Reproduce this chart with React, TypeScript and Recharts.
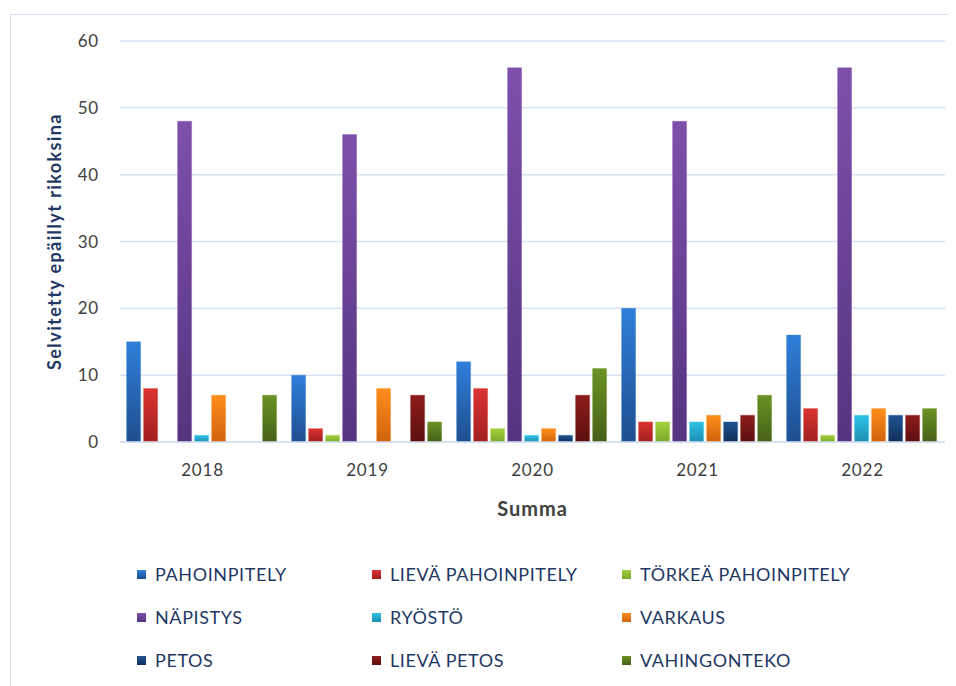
import { BarChart, Bar, XAxis, YAxis, CartesianGrid, Label } from "recharts";

const years = ["2018", "2019", "2020", "2021", "2022"];

const seriesNames = [
  "PAHOINPITELY",
  "LIEVÄ PAHOINPITELY",
  "TÖRKEÄ PAHOINPITELY",
  "NÄPISTYS",
  "RYÖSTÖ",
  "VARKAUS",
  "PETOS",
  "LIEVÄ PETOS",
  "VAHINGONTEKO",
];

const pahoinpitely = [15, 10, 12, 20, 16];
const lievaPahoinpitely = [8, 2, 8, 3, 5];
const torkeaPahoinpitely = [0, 1, 2, 3, 1];
const napistys = [48, 46, 56, 48, 56];
const ryosto = [1, 0, 1, 3, 4];
const varkaus = [7, 8, 2, 4, 5];
const petos = [0, 0, 1, 3, 4];
const lievaPetos = [0, 7, 7, 4, 4];
const vahingonteko = [7, 3, 11, 7, 5];

const seriesValues = [
  pahoinpitely,
  lievaPahoinpitely,
  torkeaPahoinpitely,
  napistys,
  ryosto,
  varkaus,
  petos,
  lievaPetos,
  vahingonteko,
];

const yTicks = [0, 10, 20, 30, 40, 50, 60];

// [top, bottom] gradient stops, Excel style
const colors: [string, string][] = [
  ["#2F7FDB", "#1F4E8E"],
  ["#DC3333", "#A01F1F"],
  ["#A3D13A", "#7BA72C"],
  ["#7D50AC", "#55347F"],
  ["#2EC3E6", "#1C8DB0"],
  ["#FF8E1C", "#D0620E"],
  ["#1F5394", "#112F58"],
  ["#8E1C1C", "#5C0F0F"],
  ["#6C9224", "#455F18"],
];

const data = years.map((year, i) => {
  const row: Record<string, string | number> = { year };
  seriesNames.forEach((name, s) => {
    row[name] = seriesValues[s][i];
  });
  return row;
});

const FONT = "Lato, 'Open Sans', sans-serif";
const NAVY = "#1F3864";
const TICK = { fontSize: 17, fill: "#404040", fontFamily: FONT, letterSpacing: 0.8 };

export default function App() {
  return (
    <div
      style={{
        position: "relative",
        marginTop: 6,
        marginLeft: 2,
        width: 938,
        height: 690,
        border: "1px solid #D5DFEE",
        background: "#fff",
        fontFamily: FONT,
      }}
    >
      <BarChart
        width={938}
        height={520}
        data={data}
        margin={{ top: 26, right: 4, left: 0, bottom: 0 }}
        barCategoryGap="4%"
        barGap={3}
      >
        <defs>
          {colors.map(([top, bottom], i) => (
            <linearGradient key={i} id={`grad${i}`} x1="0" y1="0" x2="0" y2="1">
              <stop offset="0%" stopColor={top} />
              <stop offset="100%" stopColor={bottom} />
            </linearGradient>
          ))}
        </defs>
        <CartesianGrid vertical={false} stroke="#D6E2F2" strokeWidth={1.5} />
        <XAxis
          dataKey="year"
          height={93}
          axisLine={{ stroke: "#D6E2F2", strokeWidth: 1.5 }}
          tickLine={false}
          tickSize={0}
          tickMargin={22}
          tick={TICK}
        >
          <Label
            value="Summa"
            position="insideBottom"
            offset={19}
            style={{ fontSize: 20, fontWeight: 700, fill: "#404040", fontFamily: FONT, letterSpacing: 1 }}
          />
        </XAxis>
        <YAxis
          width={109}
          domain={[0, 60]}
          ticks={yTicks}
          axisLine={false}
          tickLine={false}
          tickSize={0}
          tickMargin={21}
          tick={TICK}
        >
          <Label
            value="Selvitetty epäillyt rikoksina"
            angle={-90}
            position="center"
            dx={-10.5}
            style={{
              fontSize: 18,
              fontWeight: 700,
              fill: NAVY,
              fontFamily: FONT,
              textAnchor: "middle",
              letterSpacing: 1.4,
            }}
          />
        </YAxis>
        {seriesNames.map((name, i) => (
          <Bar
            key={name}
            dataKey={name}
            fill={`url(#grad${i})`}
            stroke={colors[i][0]}
            strokeOpacity={0.35}
            isAnimationActive={false}
          />
        ))}
      </BarChart>
      {seriesNames.map((name, i) => (
        <div
          key={name}
          style={{
            position: "absolute",
            left: [126, 361, 611][i % 3],
            top: 548 + Math.floor(i / 3) * 43,
            display: "flex",
            alignItems: "center",
            fontSize: 18,
            letterSpacing: 0.6,
            color: NAVY,
            whiteSpace: "nowrap",
          }}
        >
          <span
            style={{
              display: "inline-block",
              width: 9,
              height: 9,
              marginRight: 9,
              background: `linear-gradient(${colors[i][0]}, ${colors[i][1]})`,
            }}
          />
          {name}
        </div>
      ))}
    </div>
  );
}
